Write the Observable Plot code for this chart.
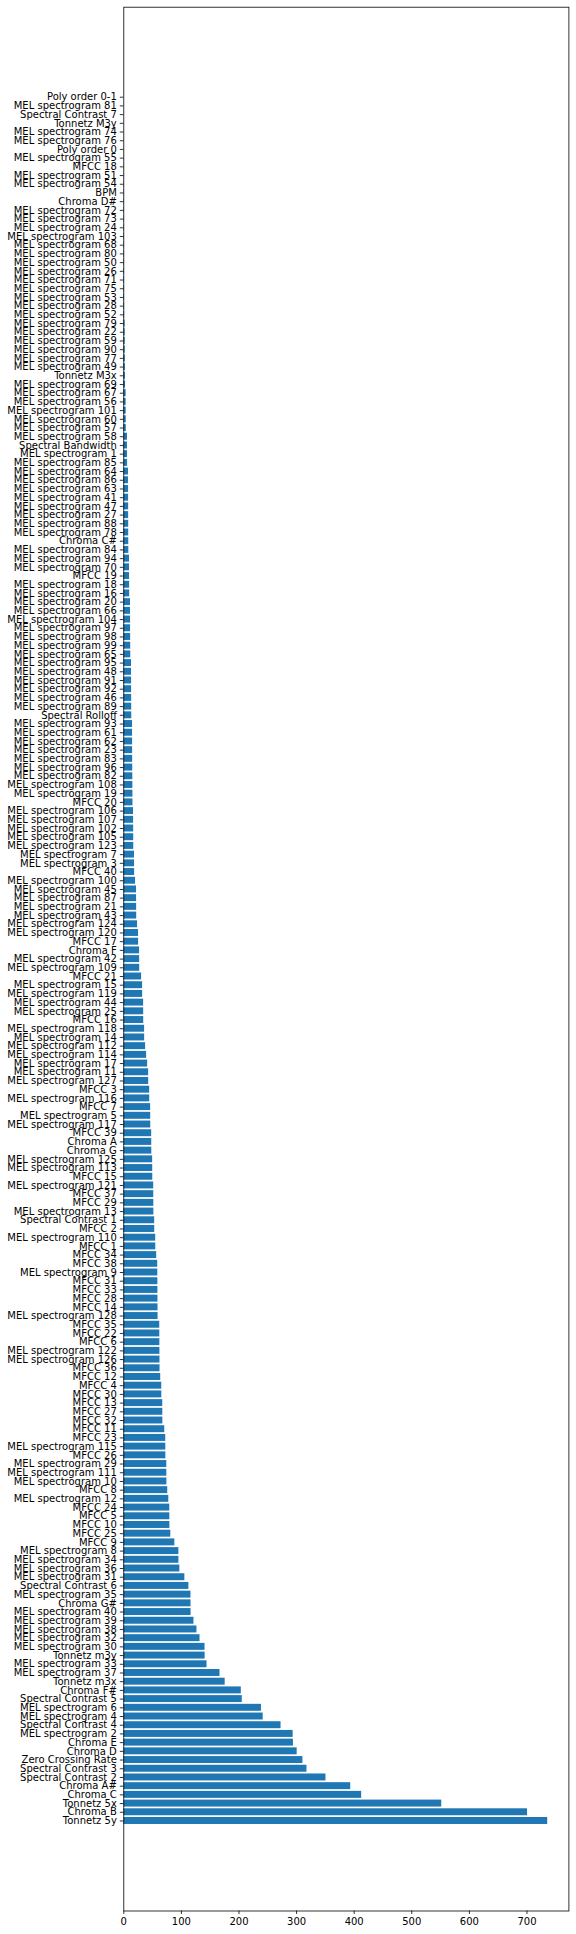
<!DOCTYPE html>
<html>
<head>
<meta charset="utf-8">
<script src="https://cdn.jsdelivr.net/npm/d3@7"></script>
<script src="https://cdn.jsdelivr.net/npm/@observablehq/plot@0.6"></script>
<style>
  html, body { margin: 0; padding: 0; background: #fff; }
  #chart svg { display: block; }
</style>
</head>
<body>
<div id="chart"></div>
<script>
// Categories, listed top to bottom as they appear on the chart
const labels = [
  "Poly order 0-1", "MEL spectrogram 81", "Spectral Contrast 7", "Tonnetz M3y", "MEL spectrogram 74",
  "MEL spectrogram 76", "Poly order 0", "MEL spectrogram 55", "MFCC 18", "MEL spectrogram 51",
  "MEL spectrogram 54", "BPM", "Chroma D#", "MEL spectrogram 72", "MEL spectrogram 73",
  "MEL spectrogram 24", "MEL spectrogram 103", "MEL spectrogram 68", "MEL spectrogram 80", "MEL spectrogram 50",
  "MEL spectrogram 26", "MEL spectrogram 71", "MEL spectrogram 75", "MEL spectrogram 53", "MEL spectrogram 28",
  "MEL spectrogram 52", "MEL spectrogram 79", "MEL spectrogram 22", "MEL spectrogram 59", "MEL spectrogram 90",
  "MEL spectrogram 77", "MEL spectrogram 49", "Tonnetz M3x", "MEL spectrogram 69", "MEL spectrogram 67",
  "MEL spectrogram 56", "MEL spectrogram 101", "MEL spectrogram 60", "MEL spectrogram 57", "MEL spectrogram 58",
  "Spectral Bandwidth", "MEL spectrogram 1", "MEL spectrogram 85", "MEL spectrogram 64", "MEL spectrogram 86",
  "MEL spectrogram 63", "MEL spectrogram 41", "MEL spectrogram 47", "MEL spectrogram 27", "MEL spectrogram 88",
  "MEL spectrogram 78", "Chroma C#", "MEL spectrogram 84", "MEL spectrogram 94", "MEL spectrogram 70",
  "MFCC 19", "MEL spectrogram 18", "MEL spectrogram 16", "MEL spectrogram 20", "MEL spectrogram 66",
  "MEL spectrogram 104", "MEL spectrogram 97", "MEL spectrogram 98", "MEL spectrogram 99", "MEL spectrogram 65",
  "MEL spectrogram 95", "MEL spectrogram 48", "MEL spectrogram 91", "MEL spectrogram 92", "MEL spectrogram 46",
  "MEL spectrogram 89", "Spectral Rolloff", "MEL spectrogram 93", "MEL spectrogram 61", "MEL spectrogram 62",
  "MEL spectrogram 23", "MEL spectrogram 83", "MEL spectrogram 96", "MEL spectrogram 82", "MEL spectrogram 108",
  "MEL spectrogram 19", "MFCC 20", "MEL spectrogram 106", "MEL spectrogram 107", "MEL spectrogram 102",
  "MEL spectrogram 105", "MEL spectrogram 123", "MEL spectrogram 7", "MEL spectrogram 3", "MFCC 40",
  "MEL spectrogram 100", "MEL spectrogram 45", "MEL spectrogram 87", "MEL spectrogram 21", "MEL spectrogram 43",
  "MEL spectrogram 124", "MEL spectrogram 120", "MFCC 17", "Chroma F", "MEL spectrogram 42",
  "MEL spectrogram 109", "MFCC 21", "MEL spectrogram 15", "MEL spectrogram 119", "MEL spectrogram 44",
  "MEL spectrogram 25", "MFCC 16", "MEL spectrogram 118", "MEL spectrogram 14", "MEL spectrogram 112",
  "MEL spectrogram 114", "MEL spectrogram 17", "MEL spectrogram 11", "MEL spectrogram 127", "MFCC 3",
  "MEL spectrogram 116", "MFCC 7", "MEL spectrogram 5", "MEL spectrogram 117", "MFCC 39",
  "Chroma A", "Chroma G", "MEL spectrogram 125", "MEL spectrogram 113", "MFCC 15",
  "MEL spectrogram 121", "MFCC 37", "MFCC 29", "MEL spectrogram 13", "Spectral Contrast 1",
  "MFCC 2", "MEL spectrogram 110", "MFCC 1", "MFCC 34", "MFCC 38",
  "MEL spectrogram 9", "MFCC 31", "MFCC 33", "MFCC 28", "MFCC 14",
  "MEL spectrogram 128", "MFCC 35", "MFCC 22", "MFCC 6", "MEL spectrogram 122",
  "MEL spectrogram 126", "MFCC 36", "MFCC 12", "MFCC 4", "MFCC 30",
  "MFCC 13", "MFCC 27", "MFCC 32", "MFCC 11", "MFCC 23",
  "MEL spectrogram 115", "MFCC 26", "MEL spectrogram 29", "MEL spectrogram 111", "MEL spectrogram 10",
  "MFCC 8", "MEL spectrogram 12", "MFCC 24", "MFCC 5", "MFCC 10",
  "MFCC 25", "MFCC 9", "MEL spectrogram 8", "MEL spectrogram 34", "MEL spectrogram 36",
  "MEL spectrogram 31", "Spectral Contrast 6", "MEL spectrogram 35", "Chroma G#", "MEL spectrogram 40",
  "MEL spectrogram 39", "MEL spectrogram 38", "MEL spectrogram 32", "MEL spectrogram 30", "Tonnetz m3y",
  "MEL spectrogram 33", "MEL spectrogram 37", "Tonnetz m3x", "Chroma F#", "Spectral Contrast 5",
  "MEL spectrogram 6", "MEL spectrogram 4", "Spectral Contrast 4", "MEL spectrogram 2", "Chroma E",
  "Chroma D", "Zero Crossing Rate", "Spectral Contrast 3", "Spectral Contrast 2", "Chroma A#",
  "Chroma C", "Tonnetz 5x", "Chroma B", "Tonnetz 5y"
];

// Importance values, same order as labels (top to bottom)
const values = [
  0.05, 0.1, 0.15, 0.2, 0.25,
  0.3, 0.35, 0.4, 0.45, 0.5,
  0.55, 0.6, 0.65, 0.7, 0.75,
  0.8, 0.85, 0.9, 0.95, 1.0,
  1.05, 1.1, 1.15, 1.2, 1.3,
  1.4, 2.2, 2.3, 2.4, 2.5,
  2.6, 2.7, 2.8, 3.0, 4.0,
  4.0, 4.1, 4.2, 4.3, 6.4,
  6.4, 6.5, 6.6, 8.2, 8.2,
  8.3, 8.3, 8.4, 8.4, 8.5,
  8.5, 8.6, 8.7, 9.9, 9.9,
  10.0, 10.1, 10.2, 11.7, 11.7,
  11.8, 11.8, 11.9, 12.0, 12.1,
  13.4, 13.4, 13.5, 13.5, 13.6,
  13.7, 13.8, 15.2, 15.2, 15.3,
  15.3, 15.4, 15.5, 15.6, 15.7,
  15.8, 15.9, 16.9, 17.0, 17.1,
  17.2, 17.3, 18.6, 18.7, 18.8,
  20.4, 22.1, 22.2, 22.3, 22.4,
  23.9, 25.6, 25.7, 27.4, 27.5,
  27.6, 30.9, 32.6, 32.7, 34.4,
  34.5, 34.6, 36.1, 36.2, 37.9,
  39.6, 41.4, 43.1, 43.2, 44.9,
  45.0, 46.6, 46.7, 46.8, 48.4,
  48.5, 48.6, 50.1, 50.2, 50.3,
  51.9, 52.0, 52.1, 52.2, 53.6,
  53.7, 55.4, 55.5, 57.1, 58.9,
  59.0, 59.1, 59.2, 59.3, 59.4,
  59.5, 62.4, 62.5, 62.6, 62.7,
  62.8, 62.9, 64.1, 65.9, 66.0,
  67.6, 67.7, 67.8, 71.1, 72.8,
  72.9, 73.0, 74.6, 74.7, 74.8,
  76.3, 78.1, 79.8, 79.9, 80.0,
  81.6, 88.6, 95.6, 95.7, 97.3,
  106, 113, 116.6, 116.7, 116.8,
  121.8, 127, 132.3, 141, 141.2,
  144.5, 167, 176, 204, 205.7,
  239, 242, 273, 294, 294.5,
  301, 311, 318, 351, 394,
  413, 552, 701, 736
];

const xTicks = [0, 100, 200, 300, 400, 500, 600, 700];

const data = labels.map((label, i) => ({label, value: values[i]}));

const W = 576, H = 1934;
const mLeft = 123.3, mRight = 7.6, mTop = 6.7, mBottom = 23.5;
const firstCenter = 96.7;
const step = 8.706;
const lastCenter = firstCenter + step * (labels.length - 1);

const chart = Plot.plot({
  width: W,
  height: H,
  marginLeft: mLeft,
  marginRight: mRight,
  marginTop: mTop,
  marginBottom: mBottom,
  style: {fontFamily: "DejaVu Sans, sans-serif", fontSize: "10px", color: "black", background: "white"},
  x: {domain: [0, 736 * 1.05], label: null},
  y: {
    domain: labels,
    range: [firstCenter - step / 2, lastCenter + step / 2],
    paddingInner: 0.2,
    paddingOuter: 0.1,
    label: null
  },
  marks: [
    Plot.barX(data, {x: "value", y: "label", fill: "#1f77b4"}),
    Plot.axisX({ticks: xTicks, tickSize: 3.5, tickPadding: 3.5, stroke: "black", fill: "black", strokeWidth: 0.8, fontSize: 10, label: null}),
    Plot.axisY({tickSize: 3.5, tickPadding: 3.5, stroke: "black", fill: "black", strokeWidth: 0.8, fontSize: 10, label: null}),
    Plot.frame({stroke: "black", strokeWidth: 0.8})
  ]
});

document.getElementById("chart").appendChild(chart);
</script>
</body>
</html>
